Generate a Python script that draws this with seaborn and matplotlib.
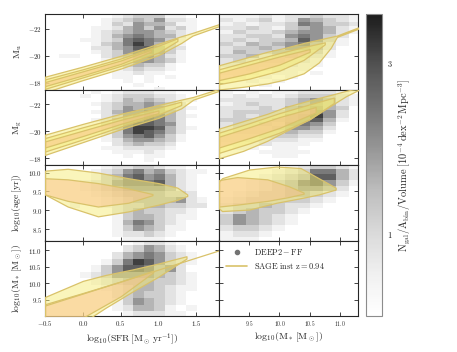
import numpy as np
import pandas as pd
import matplotlib
matplotlib.use("Agg")
import matplotlib.pyplot as plt
import seaborn as sns
from matplotlib.colors import LogNorm, LinearSegmentedColormap
from matplotlib.cm import ScalarMappable
from matplotlib.lines import Line2D
from matplotlib.ticker import FuncFormatter

# ---- binning of the DEEP2 histograms ----
sfr_x0, sfr_dx = -0.454, 0.14      # log10 SFR columns
mst_x0, mst_dx = 8.809, 0.213      # log10 M* columns
mag_y0, mag_dy = -23.1, 0.3        # magnitude rows, top row first
age_y0, age_dy = 10.25, -0.15      # age rows, top row first
mas_y0, mas_dy = 11.35, -0.2       # mass rows, top row first

# shade level of each cell (0 = empty, 9 = darkest)
mu_sfr = ["0000001233311000", "0000012343522100", "0000013254431100", "0000112453523100",
          "0000123455432100", "0000124565442000", "0001123676531000", "0000134686431000",
          "0000224577532000", "0000123567531000", "0110023466421000", "0000012355431000",
          "0000012343310000", "0000011232210000", "0000001121100000", "0000001101010000",
          "0000000101000000", "0000000010000000", "0000000000100000"]
mu_mst = ["011121223221", "021231254321", "012122365332", "022321345421", "013223455421",
          "022332565320", "023233475310", "032434564210", "023343554200", "024334443100",
          "033423432100", "023233221000", "022222211000", "011212110000", "011101101000",
          "001010100000", "000101000000", "000010000000", "000000000000"]
mg_sfr = ["0000101222110000", "0001012333221000", "0000012434321100", "0000123445432000",
          "0000023545532100", "0000124556542000", "0000023567642100", "0000124667642000",
          "0000034677652000", "0000024688742100", "0000023687642000", "0000013567531000",
          "0000012455431000", "0000002343320000", "0000011222210000", "0000001112100000",
          "0000000101100000", "0000000001000000", "0000000000000000"]
mg_mst = ["010101122210", "012121233321", "022222345421", "012322345421", "022232456430",
          "023333457520", "023233568520", "033334567410", "023343665300", "023334554200",
          "023333433100", "022233322000", "022222211000", "011121110000", "001101100000",
          "000011110000", "000001100000", "000000000000", "000000000000"]
age_sfr = ["0000012233211000", "0000123564532110", "0000134675642100", "0001235666742100",
           "0001234555542100", "0000123444433200", "0000012344445210", "0010012334433220",
           "0000002343322100", "0000001344321100", "0000001465321000", "0000001354311000",
           "0000001223210000", "0000000111100000"]
age_mst = ["000000123321", "000001236642", "000012347742", "000123467531", "000123455420",
           "001233443210", "012333332100", "023343221000", "023433210000", "035432100000",
           "035432100000", "023321000000", "012210000000", "011100000000"]
mas_sfr = ["0000000012210000", "0000000235421000", "0000002456532100", "0000013687532100",
           "0000135776452000", "0001235555432100", "0000123444332100", "0000012344321100",
           "0000002343321000", "0000001354321000", "0000001244310100", "0000000122211000"]

# ---- SAGE contours: x, lower edge, upper edge for each level (outer first) ----
mu_sfr_x = [[-0.5, 0.0, 0.5, 1.0, 1.3, 1.45, 1.8], [-0.5, 0.0, 0.5, 1.0, 1.25], [-0.5, 0.0, 0.5, 0.9]]
mu_sfr_lo = [[-17.3, -18.2, -19.05, -20.05, -20.95, -21.5, -22.2], [-17.55, -18.4, -19.25, -20.25, -21.1],
             [-17.75, -18.55, -19.4, -20.3]]
mu_sfr_hi = [[-18.45, -19.2, -20.0, -20.9, -21.45, -21.7, -22.35], [-18.25, -19.0, -19.8, -20.75, -21.3],
             [-18.05, -18.85, -19.65, -20.45]]

mu_mst_x = [[9.0, 9.4, 9.8, 10.1, 10.4, 10.65, 10.85, 10.95, 11.3], [9.0, 9.5, 10.0, 10.4, 10.75],
            [9.0, 9.5, 10.0, 10.5]]
mu_mst_lo = [[-17.5, -17.7, -17.95, -18.25, -18.7, -19.5, -20.6, -21.4, -22.0], [-17.9, -18.3, -18.9, -19.7, -20.85],
             [-18.2, -18.7, -19.35, -20.3]]
mu_mst_hi = [[-19.3, -19.8, -20.3, -20.6, -20.95, -21.2, -21.4, -21.5, -22.1], [-19.0, -19.6, -20.2, -20.65, -21.0],
             [-18.75, -19.35, -19.95, -20.5]]

mg_sfr_x = [[-0.5, 0.0, 0.5, 1.0, 1.3, 1.46, 1.8], [-0.5, 0.0, 0.5, 1.0, 1.3], [-0.5, 0.0, 0.5, 1.0]]
mg_sfr_lo = [[-18.25, -19.2, -20.15, -21.0, -21.7, -22.35, -23.0], [-18.5, -19.4, -20.35, -21.25, -21.95],
             [-18.8, -19.65, -20.55, -21.35]]
mg_sfr_hi = [[-19.75, -20.55, -21.3, -21.95, -22.35, -22.55, -23.15], [-19.5, -20.3, -21.05, -21.75, -22.2],
             [-19.25, -20.05, -20.85, -21.55]]

mg_mst_x = [[9.0, 9.4, 9.8, 10.1, 10.5, 10.85, 11.1, 11.3], [9.0, 9.5, 10.0, 10.5, 10.9], [9.0, 9.5, 10.0, 10.6]]
mg_mst_lo = [[-18.0, -18.55, -19.3, -20.0, -20.9, -21.9, -22.6, -23.05], [-18.4, -19.1, -19.9, -20.9, -22.1],
             [-18.8, -19.5, -20.25, -21.4]]
mg_mst_hi = [[-20.2, -20.75, -21.3, -21.8, -22.3, -22.7, -23.0, -23.2], [-19.9, -20.6, -21.35, -22.0, -22.5],
             [-19.6, -20.3, -21.05, -21.8]]

age_sfr_x = [[-0.5, -0.2, 0.2, 0.6, 1.0, 1.25, 1.38], [-0.5, -0.2, 0.2, 0.6, 0.92]]
age_sfr_lo = [[9.42, 9.1, 8.84, 8.97, 9.15, 9.28, 9.38], [9.42, 9.25, 9.1, 9.2, 9.4]]
age_sfr_hi = [[10.05, 10.1, 10.0, 9.85, 9.72, 9.6, 9.42], [9.85, 9.82, 9.72, 9.58, 9.43]]

age_mst_x = [[9.0, 9.05, 9.5, 9.95, 10.35, 10.65, 10.93], [9.0, 9.3, 9.8, 10.15, 10.4]]
age_mst_lo = [[9.05, 8.98, 9.02, 9.2, 9.32, 9.42, 9.55], [9.1, 9.15, 9.25, 9.35, 9.44]]
age_mst_hi = [[9.75, 9.85, 10.08, 10.16, 10.12, 9.85, 9.6], [9.8, 9.88, 9.82, 9.64, 9.47]]

mas_sfr_x = [[-0.5, 0.0, 0.3, 0.66, 1.0, 1.2, 1.37], [-0.5, 0.0, 0.5, 0.93]]
mas_sfr_lo = [[8.8, 8.8, 9.25, 9.75, 10.2, 10.5, 10.75], [8.8, 8.95, 9.6, 10.33]]
mas_sfr_hi = [[9.58, 10.07, 10.25, 10.42, 10.6, 10.72, 10.82], [9.36, 9.7, 10.05, 10.38]]
mas_sfr_line_x = [-0.5, 1.8]
mas_sfr_line_y = [9.3, 10.98]

cbar_ticks = [1, 3]

# ---- style ----
sns.set_style("ticks")
plt.rcParams["font.family"] = ["DejaVu Serif"]
plt.rcParams["mathtext.fontset"] = "cm"
plt.rcParams["xtick.direction"] = "in"
plt.rcParams["ytick.direction"] = "in"
plt.rcParams["xtick.top"] = True
plt.rcParams["ytick.right"] = True
plt.rcParams["axes.linewidth"] = 0.8

grey = LinearSegmentedColormap.from_list("grey", plt.cm.Greys(np.linspace(0, 0.9, 256)))
yellow = (0.965, 0.93, 0.47, 0.5)
orange = (0.98, 0.765, 0.55, 0.5)
edge = "#d9c26a"


def cells(rows, x0, dx, y0, dy):
    recs = []
    for r, row in enumerate(rows):
        for c, ch in enumerate(row):
            if ch != "0":
                recs.append((x0 + dx * (c + 0.5), y0 + dy * (r + 0.5), int(ch)))
    df = pd.DataFrame(recs, columns=["x", "y", "w"])
    xe = x0 + dx * np.arange(len(rows[0]) + 1)
    ye = np.sort(y0 + dy * np.arange(len(rows) + 1))
    return df, xe, ye


def draw_hist(ax, rows, x0, dx, y0, dy):
    df, xe, ye = cells(rows, x0, dx, y0, dy)
    sns.histplot(data=df, x="x", y="y", weights="w", bins=(xe, ye), cmap=grey,
                 vmin=0, vmax=9, ax=ax)


def draw_contours(ax, xs, los, his):
    n = len(xs)
    for i in range(n):
        face = orange if (i == n - 1) else yellow
        ax.fill_between(xs[i], los[i], his[i], facecolor=face, edgecolor=edge, lw=0.9, zorder=3)


fig, axes = plt.subplots(4, 2, figsize=(4.57, 3.52), dpi=100, sharex="col", sharey="row",
                         gridspec_kw=dict(width_ratios=[174, 139], hspace=0, wspace=0,
                                          left=45 / 457, right=358 / 457,
                                          top=1 - 14 / 352, bottom=1 - 316 / 352))

draw_hist(axes[0, 0], mu_sfr, sfr_x0, sfr_dx, mag_y0, mag_dy)
draw_hist(axes[0, 1], mu_mst, mst_x0, mst_dx, mag_y0, mag_dy)
draw_hist(axes[1, 0], mg_sfr, sfr_x0, sfr_dx, mag_y0, mag_dy)
draw_hist(axes[1, 1], mg_mst, mst_x0, mst_dx, mag_y0, mag_dy)
draw_hist(axes[2, 0], age_sfr, sfr_x0, sfr_dx, age_y0, age_dy)
draw_hist(axes[2, 1], age_mst, mst_x0, mst_dx, age_y0, age_dy)
draw_hist(axes[3, 0], mas_sfr, sfr_x0, sfr_dx, mas_y0, mas_dy)

draw_contours(axes[0, 0], mu_sfr_x, mu_sfr_lo, mu_sfr_hi)
draw_contours(axes[0, 1], mu_mst_x, mu_mst_lo, mu_mst_hi)
draw_contours(axes[1, 0], mg_sfr_x, mg_sfr_lo, mg_sfr_hi)
draw_contours(axes[1, 1], mg_mst_x, mg_mst_lo, mg_mst_hi)
draw_contours(axes[2, 0], age_sfr_x, age_sfr_lo, age_sfr_hi)
draw_contours(axes[2, 1], age_mst_x, age_mst_lo, age_mst_hi)
draw_contours(axes[3, 0], mas_sfr_x, mas_sfr_lo, mas_sfr_hi)
axes[3, 0].plot(mas_sfr_line_x, mas_sfr_line_y, color=edge, lw=0.9, zorder=4)

# ---- axes, ticks, labels ----
for ax in axes.flat:
    ax.set_xlabel("")
    ax.set_ylabel("")
    ax.tick_params(length=3, width=0.6, labelsize=5, pad=2)

axes[0, 0].set_xlim(-0.5, 1.8)
axes[0, 1].set_xlim(9.0, 11.3)
axes[0, 0].set_ylim(-17.5, -23.1)
axes[1, 0].set_ylim(-17.5, -23.1)
axes[2, 0].set_ylim(8.2, 10.2)
axes[3, 0].set_ylim(9.0, 11.3)

axes[0, 0].set_xticks([-0.5, 0.0, 0.5, 1.0, 1.5])
axes[0, 1].set_xticks([9.5, 10.0, 10.5, 11.0])
axes[0, 0].set_yticks([-22, -20, -18])
axes[1, 0].set_yticks([-22, -20, -18])
axes[2, 0].set_yticks([8.5, 9.0, 9.5, 10.0])
axes[3, 0].set_yticks([9.5, 10.0, 10.5, 11.0])

f0 = FuncFormatter(lambda v, p: r"$%d$" % round(v))
f1 = FuncFormatter(lambda v, p: r"$%.1f$" % v)
axes[0, 0].yaxis.set_major_formatter(f0)
axes[1, 0].yaxis.set_major_formatter(f0)
axes[2, 0].yaxis.set_major_formatter(f1)
axes[3, 0].yaxis.set_major_formatter(f1)
axes[3, 0].xaxis.set_major_formatter(f1)
axes[3, 1].xaxis.set_major_formatter(f1)
axes[3, 1].tick_params(axis="x", labelsize=4)

ylabels = [r"$\mathrm{M_u}$", r"$\mathrm{M_g}$", r"$\mathrm{log_{10}(age\,[yr])}$",
           r"$\mathrm{log_{10}(M_*\,[M_\odot])}$"]
for r in range(4):
    axes[r, 0].set_ylabel(ylabels[r], fontsize=7, labelpad=3)
axes[3, 0].set_xlabel(r"$\mathrm{log_{10}(SFR\,[M_\odot\,yr^{-1}])}$", fontsize=7, labelpad=2)
axes[3, 1].set_xlabel(r"$\mathrm{log_{10}(M_*\,[M_\odot])}$", fontsize=7, labelpad=2)

# legend panel
handles = [Line2D([], [], marker="o", ls="none", color="0.45", markersize=3),
           Line2D([], [], color=edge, lw=1.2)]
axes[3, 1].legend(handles, [r"$\mathrm{DEEP2-FF}$", r"$\mathrm{SAGE\ inst\ z=0.94}$"],
                  loc="upper left", frameon=False, fontsize=6, handlelength=2.6,
                  borderaxespad=0.4, labelspacing=0.5)

# colour bar
cax = fig.add_axes([366 / 457, 1 - 316 / 352, 16 / 457, 302 / 352])
sm = ScalarMappable(norm=LogNorm(0.59, 4.1), cmap=grey)
cb = fig.colorbar(sm, cax=cax)
cb.set_ticks(cbar_ticks)
cb.set_ticklabels([r"$%d$" % t for t in cbar_ticks])
cb.ax.minorticks_off()
cb.ax.tick_params(labelsize=6, length=2, direction="in", width=0.5)
cb.outline.set_edgecolor("0.55")
cb.outline.set_linewidth(0.8)
cb.set_label(r"$\mathrm{N_{gal}/A_{bin}/Volume\ [10^{-4}\,dex^{-2}\,Mpc^{-3}]}$", fontsize=7.5, labelpad=3)

fig.savefig("out.png", dpi=100)
